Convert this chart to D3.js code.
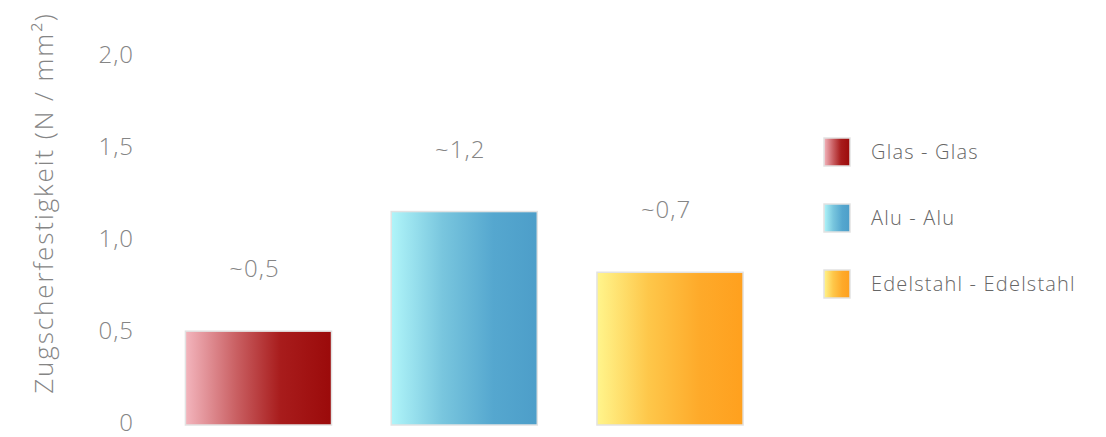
<!DOCTYPE html>
<html><head><meta charset="utf-8">
<script src="https://cdn.jsdelivr.net/npm/d3@7"></script>
<style>
body{margin:0;background:#fff;}
text{font-family:"Open Sans",sans-serif;font-weight:300;}
</style></head>
<body>
<svg id="chart" width="1106" height="437"></svg>
<script>
const categories = ["Glas - Glas", "Alu - Alu", "Edelstahl - Edelstahl"];
const values = [0.51, 1.16, 0.83];
const valueLabels = ["~0,5", "~1,2", "~0,7"];
const yTicks = [0, 0.5, 1.0, 1.5, 2.0];
const yTickLabels = ["0", "0,5", "1,0", "1,5", "2,0"];
const yTitle = "Zugscherfestigkeit (N / mm²)";
const gradients = [
  [["0%","#f3b5bd"],["35%","#c95f62"],["65%","#a81c1c"],["100%","#9b0a0a"]],
  [["0%","#b0f5f9"],["35%","#79c6de"],["70%","#55a7cf"],["100%","#4d9ec9"]],
  [["0%","#fff58c"],["35%","#fec74a"],["70%","#feaa2a"],["100%","#ffa01e"]]
];

const svg = d3.select("#chart");
const defs = svg.append("defs");
gradients.forEach((stops, i) => {
  const g = defs.append("linearGradient").attr("id", "grad" + i)
    .attr("x1", "0%").attr("x2", "100%").attr("y1", "0%").attr("y2", "0%");
  stops.forEach(s => g.append("stop").attr("offset", s[0]).attr("stop-color", s[1]));
});

const y = d3.scaleLinear().domain([0, 2]).range([425, 57]);
const x = d3.scaleBand().domain(categories).range([155.6, 772.9])
  .paddingInner(0.29).paddingOuter(0.145);

// y axis
const yAxis = d3.axisLeft(y).tickValues(yTicks)
  .tickFormat((d, i) => yTickLabels[i]).tickSize(0).tickPadding(0);
const ga = svg.append("g").attr("transform", "translate(134,-2)").call(yAxis);
ga.select(".domain").remove();
ga.selectAll("text").attr("font-size", 24).attr("fill", "#858585")
  .attr("letter-spacing", 1)
  .attr("font-family", "'Open Sans',sans-serif").attr("font-weight", 300);

svg.append("text").attr("transform", "translate(53,203) rotate(-90)")
  .attr("text-anchor", "middle").attr("font-size", 26).attr("fill", "#858585")
  .attr("letter-spacing", 1.9)
  .text(yTitle);

// bars
svg.selectAll("rect.bar").data(categories).join("rect").attr("class", "bar")
  .attr("x", d => x(d)).attr("width", x.bandwidth())
  .attr("y", (d, i) => y(values[i])).attr("height", (d, i) => y(0) - y(values[i]))
  .attr("fill", (d, i) => `url(#grad${i})`)
  .attr("stroke", "#e2e2e2").attr("stroke-width", 1.5);

svg.selectAll("text.val").data(categories).join("text").attr("class", "val")
  .attr("x", d => x(d) + x.bandwidth() / 2 - 4)
  .attr("y", (d, i) => y(values[i]) - 54)
  .attr("text-anchor", "middle").attr("font-size", 24).attr("fill", "#858585")
  .attr("letter-spacing", 1)
  .text((d, i) => valueLabels[i]);

// legend
const leg = svg.append("g").attr("transform", "translate(824,138)");
const li = leg.selectAll("g").data(categories).join("g")
  .attr("transform", (d, i) => `translate(0,${i * 66})`);
li.append("rect").attr("width", 26).attr("height", 28)
  .attr("fill", (d, i) => `url(#grad${i})`)
  .attr("stroke", "#e2e2e2").attr("stroke-width", 1.5);
li.append("text").attr("x", 47).attr("y", 14).attr("dy", "0.35em")
  .attr("font-size", 20).attr("fill", "#666").attr("letter-spacing", 1.2)
  .text(d => d);
</script>
</body></html>
